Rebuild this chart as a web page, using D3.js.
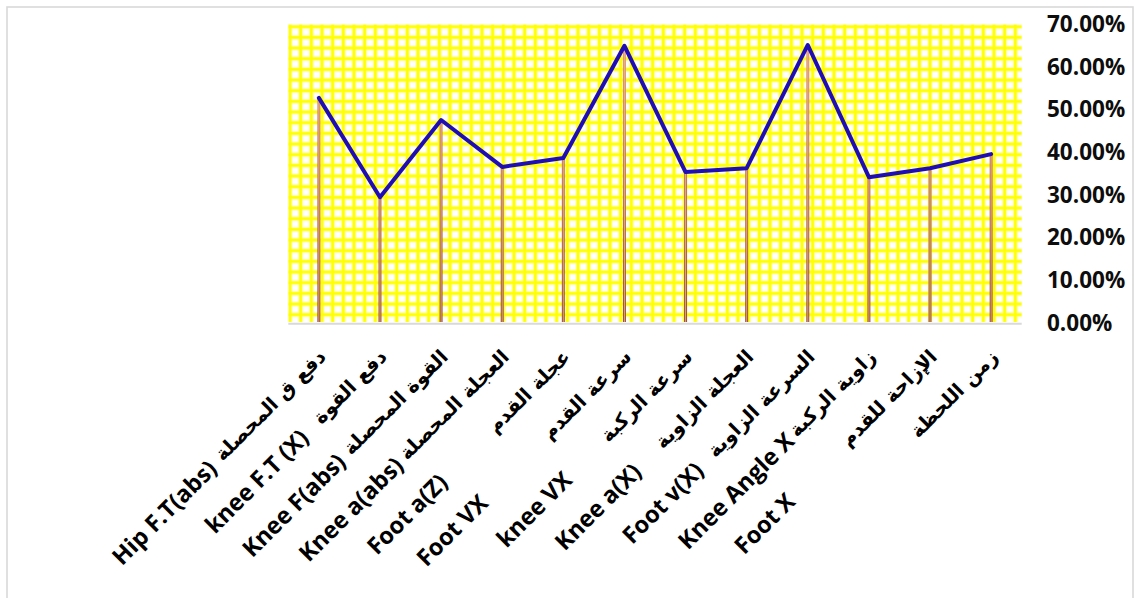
<!DOCTYPE html>
<html>
<head>
<meta charset="utf-8">
<script src="https://cdn.jsdelivr.net/npm/d3@7"></script>
<style>
  html, body { margin: 0; padding: 0; background: #ffffff; }
  svg { display: block; }
</style>
</head>
<body>
<svg id="chart" width="1134" height="598"></svg>
<script>
// ---- data ----
const categoriesEn = ["Hip F.T(abs)", "knee F.T (X)", "Knee F(abs)", "Knee a(abs)", "Foot a(Z)", "Foot VX",
                      "knee VX", "Knee a(X)", "Foot v(X)", "Knee Angle X", "Foot X", ""];
const categoriesAr = ["دفع ق المحصلة", "دفع القوة", "القوة المحصلة", "العجلة المحصلة", "عجلة القدم", "سرعة القدم",
                      "سرعة الركبة", "العجلة الزاوية", "السرعة الزاوية", "زاوية الركبة", "الإزاحة للقدم", "زمن اللحظة"];
const values = [0.528, 0.295, 0.476, 0.366, 0.387, 0.650, 0.354, 0.363, 0.652, 0.342, 0.363, 0.396];
const yTicks = [0, 0.1, 0.2, 0.3, 0.4, 0.5, 0.6, 0.7];

// ---- layout ----
const plot = { left: 288.3, right: 1021.7, top: 24.5, bottom: 323 };
// space left between the English part and the Arabic part of each label
const labelGap = [9, 18, 8, 6, 68, 88, 52, 31, 17, 4, 76, 0];
const arabicEnd = -19;
const labelDrop = 24;

const svg = d3.select("#chart");
const defs = svg.append("defs");

// outer chart frame
svg.append("rect")
  .attr("x", 7).attr("y", 7)
  .attr("width", 1126).attr("height", 620)
  .attr("fill", "#ffffff")
  .attr("stroke", "#d9d9d9").attr("stroke-width", 1.6);

// yellow grid pattern fill of the plot area
const cell = 32 / 3;
const pat = defs.append("pattern")
  .attr("id", "yellowGrid")
  .attr("patternUnits", "userSpaceOnUse")
  .attr("x", 290 - cell / 2).attr("y", 26.7 - cell / 2)
  .attr("width", cell).attr("height", cell);
pat.append("rect").attr("width", cell).attr("height", cell).attr("fill", "#ffffff");
[["#ffffc4", 5.2], ["#ffff70", 3.6], ["#ffff00", 2.4]].forEach(([c, w]) => {
  pat.append("line").attr("x1", cell / 2).attr("x2", cell / 2).attr("y1", 0).attr("y2", cell)
    .attr("stroke", c).attr("stroke-width", w);
  pat.append("line").attr("y1", cell / 2).attr("y2", cell / 2).attr("x1", 0).attr("x2", cell)
    .attr("stroke", c).attr("stroke-width", w);
});

// drop-line gradient
const grad = defs.append("linearGradient")
  .attr("id", "dropGrad").attr("gradientUnits", "userSpaceOnUse")
  .attr("x1", 0).attr("x2", 0).attr("y1", plot.top).attr("y2", plot.bottom);
grad.append("stop").attr("offset", 0).attr("stop-color", "#e9a27a");
grad.append("stop").attr("offset", 1).attr("stop-color", "#9a4e36");

// ---- scales ----
const x = d3.scaleBand().domain(d3.range(categoriesAr.length)).range([plot.left, plot.right]).paddingInner(0).paddingOuter(0);
const cx = i => x(i) + x.bandwidth() / 2;
const y = d3.scaleLinear().domain([0, 0.7]).range([plot.bottom, plot.top]);

svg.append("rect")
  .attr("x", plot.left).attr("y", plot.top)
  .attr("width", plot.right - plot.left).attr("height", plot.bottom - 1 - plot.top)
  .attr("fill", "url(#yellowGrid)");

// category axis line
svg.append("line")
  .attr("x1", plot.left).attr("x2", plot.right)
  .attr("y1", plot.bottom + 0.8).attr("y2", plot.bottom + 0.8)
  .attr("stroke", "#d9d9d9").attr("stroke-width", 2);

// value axis on the right
const yAxis = d3.axisRight(y).tickValues(yTicks).tickFormat(d3.format(".2%")).tickSize(0).tickPadding(0);
const yg = svg.append("g").attr("transform", `translate(1047,0)`).call(yAxis);
yg.select(".domain").remove();
yg.selectAll("text")
  .attr("x", 0)
  .attr("font-family", "'Open Sans', sans-serif")
  .attr("font-weight", 700)
  .attr("font-size", 22.5)
  .attr("fill", "#0d0d0d");

// drop lines
const drops = svg.append("g");
values.forEach((v, i) => {
  drops.append("line")
    .attr("x1", cx(i)).attr("x2", cx(i)).attr("y1", y(v)).attr("y2", plot.bottom - 1)
    .attr("stroke", "url(#dropGrad)").attr("stroke-width", 3);
  drops.append("line")
    .attr("x1", cx(i)).attr("x2", cx(i)).attr("y1", y(v)).attr("y2", plot.bottom - 1)
    .attr("stroke", "#f0b48c").attr("stroke-width", 1).attr("opacity", 0.8);
});

// series line
const line = d3.line().x((d, i) => cx(i)).y(d => y(d));
svg.append("path")
  .datum(values)
  .attr("d", line)
  .attr("fill", "none")
  .attr("stroke", "#1f0db5")
  .attr("stroke-width", 4)
  .attr("stroke-linejoin", "round")
  .attr("stroke-linecap", "round");

// rotated category labels: English part followed by the Arabic part on one baseline
const labels = svg.append("g");
categoriesAr.forEach((ar, i) => {
  const g = labels.append("g")
    .attr("transform", `translate(${cx(i)},${plot.bottom}) rotate(-45)`);
  const arText = g.append("text")
    .attr("x", arabicEnd).attr("y", labelDrop)
    .attr("text-anchor", "end")
    .attr("dominant-baseline", "central")
    .attr("font-family", "'DejaVu Sans', sans-serif")
    .attr("font-weight", 700)
    .attr("font-size", 19.5)
    .attr("fill", "#000")
    .text(ar);
  if (categoriesEn[i]) {
    const arWidth = arText.node().getComputedTextLength();
    g.append("text")
      .attr("x", arabicEnd - arWidth - labelGap[i]).attr("y", labelDrop)
      .attr("text-anchor", "end")
      .attr("dominant-baseline", "central")
      .attr("font-family", "'Open Sans', sans-serif")
      .attr("font-weight", 700)
      .attr("font-size", 23.5)
      .attr("fill", "#000")
      .text(categoriesEn[i]);
  }
});
</script>
</body>
</html>
